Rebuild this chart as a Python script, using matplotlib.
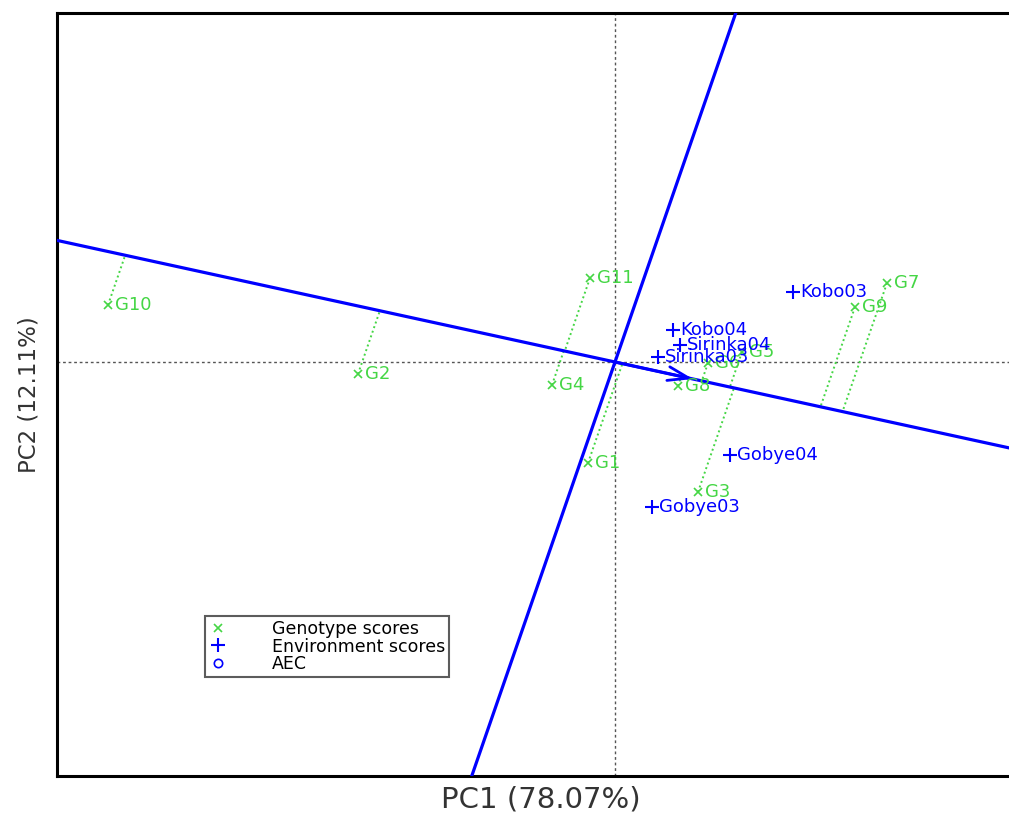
import numpy as np
import matplotlib.pyplot as plt
from matplotlib.lines import Line2D

# GGE biplot, AEC view. Scores (arbitrary biplot units)
genotypes = ["G1", "G2", "G3", "G4", "G5", "G6", "G7", "G8", "G9", "G10", "G11"]
gen_pc1 = [-0.27, -2.57, 0.83, -0.63, 1.27, 0.93, 2.72, 0.63, 2.40, -5.07, -0.25]
gen_pc2 = [-1.01, -0.12, -1.30, -0.23, 0.10, -0.01, 0.79, -0.24, 0.55, 0.57, 0.84]

environments = ["Kobo04", "Sirinka04", "Sirinka03", "Kobo03", "Gobye04", "Gobye03"]
env_pc1 = [0.58, 0.65, 0.43, 1.78, 1.15, 0.37]
env_pc2 = [0.32, 0.17, 0.05, 0.70, -0.93, -1.45]

# average environment coordinate (arrow tip)
aec = np.array([0.78, -0.17])

xlabel = "PC1 (78.07%)"
ylabel = "PC2 (12.11%)"

GREEN = "#45d645"
BLUE = "#0000ff"
H = 1.26  # horizontal stretch of the original picture

fig = plt.figure(figsize=(10.09, 8.14), dpi=100)
ax = fig.add_axes([57 / 1009, 38 / 814, 952 / 1009, 763 / 814])
ax.set_xlim(-5.58, 3.94)
ax.set_ylim(-4.14, 3.49)

# reference lines through origin
ax.axhline(0, color="#555555", lw=1.0, ls=(0, (2, 2)), zorder=1)
ax.axvline(0, color="#555555", lw=1.0, ls=(0, (2, 2)), zorder=1)

# AEC abscissa and ordinate
u = aec / np.linalg.norm(aec)
v = np.array([-u[1] * H ** 2, u[0]])
v = v / np.linalg.norm(v)
t = np.array([-20, 20])
ax.plot(t * u[0], t * u[1], color=BLUE, lw=2.3, zorder=3)
ax.plot(t * v[0], t * v[1], color=BLUE, lw=2.3, zorder=3)

# projection of each genotype onto the AEC abscissa, along the ordinate
for gx, gy in zip(gen_pc1, gen_pc2):
    g = np.array([gx, gy])
    s, r = np.linalg.solve(np.column_stack([u, -v]), g)
    foot = s * u
    ax.plot([gx, foot[0]], [gy, foot[1]], color=GREEN, lw=1.4,
            ls=(0, (1, 1.5)), zorder=2)

# arrow for the average environment
ax.annotate("", xy=aec, xytext=(0, 0),
            arrowprops=dict(arrowstyle="->,head_length=1.5,head_width=0.5",
                            color=BLUE, lw=2.0, shrinkA=0, shrinkB=0), zorder=4)

# genotype scores
ax.plot(gen_pc1, gen_pc2, ls="none", marker="x", ms=6, mew=1.2, color=GREEN, zorder=5)
for name, x, y in zip(genotypes, gen_pc1, gen_pc2):
    ax.annotate(name, (x, y), xytext=(5, 0), textcoords="offset points",
                ha="left", va="center", fontsize=13, color=GREEN, zorder=5)

# environment scores
ax.plot(env_pc1, env_pc2, ls="none", marker="+", ms=10, mew=1.5, color=BLUE, zorder=6)
for name, x, y in zip(environments, env_pc1, env_pc2):
    ax.annotate(name, (x, y), xytext=(5, 0), textcoords="offset points",
                ha="left", va="center", fontsize=13, color=BLUE, zorder=6)

ax.set_xticks([])
ax.set_yticks([])
for side in ["left", "bottom", "top"]:
    ax.spines[side].set_linewidth(2.2)
ax.spines["right"].set_visible(False)

ax.set_xlabel(xlabel, fontsize=21, color="#333333", labelpad=5)
ax.xaxis.set_label_coords(0.508, -0.012, transform=ax.transAxes)
ax.xaxis.label.set_va("top")
ax.set_ylabel(ylabel, fontsize=16.5, color="#333333", labelpad=12)

handles = [
    Line2D([], [], ls="none", marker="x", ms=6, mew=1.2, color=GREEN),
    Line2D([], [], ls="none", marker="+", ms=10, mew=1.5, color=BLUE),
    Line2D([], [], ls="none", marker="o", ms=6, mew=1.2, mfc="none", color=BLUE),
]
leg = fig.legend(handles, ["Genotype scores", "Environment scores", "AEC"],
                 loc="lower left", bbox_to_anchor=(205 / 1009, 137 / 814),
                 bbox_transform=fig.transFigure, borderaxespad=0,
                 fontsize=12.5, frameon=True, fancybox=False, edgecolor="#333333",
                 handlelength=1.0, handletextpad=2.6, labelspacing=-0.05,
                 borderpad=0.25)
leg.get_frame().set_linewidth(1.5)

fig.savefig("out.png", dpi=100)
